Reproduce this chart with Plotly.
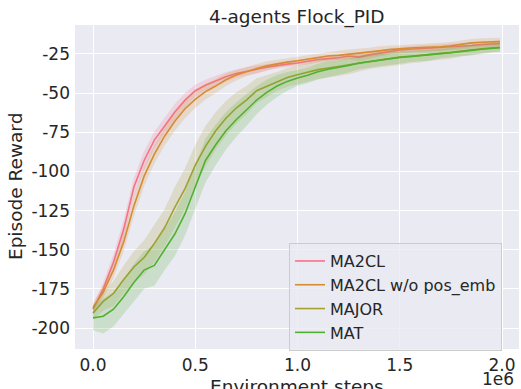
import plotly.graph_objects as go

# Environment steps (in millions, axis shows x1e6)
steps_m = [0.00, 0.05, 0.10, 0.15, 0.20, 0.25, 0.30, 0.35, 0.40, 0.45,
           0.50, 0.55, 0.60, 0.65, 0.70, 0.75, 0.80, 0.85, 0.90, 0.95,
           1.00, 1.05, 1.10, 1.15, 1.20, 1.25, 1.30, 1.35, 1.40, 1.45,
           1.50, 1.55, 1.60, 1.65, 1.70, 1.75, 1.80, 1.85, 1.90, 1.95, 1.99]

series_names = ["MA2CL", "MA2CL w/o pos_emb", "MAJOR", "MAT"]

ma2cl = [-188, -175, -158, -137, -110, -93, -80, -71, -62, -54.5,
         -48.5, -45, -42, -39.5, -37.5, -36, -34.8, -33.5, -32.3, -31.5,
         -30.8, -29.8, -28.5, -28.0, -27.4, -26.3, -27.0, -25.6, -24.6, -23.4,
         -22.5, -22.0, -21.6, -21.3, -21.0, -20.7, -20.2, -19.6, -19.0, -18.5, -18.3]
ma2cl_hw = [3, 4, 5, 6, 6, 6, 5.5, 5, 5, 4.5,
            4, 3.5, 3, 3, 2.5, 2.5, 2.5, 2, 2, 2,
            2, 2, 2, 2, 2, 2, 2.5, 2.5, 2, 2,
            2, 2, 2, 2, 2, 2, 2, 2, 2, 2, 2]

ma2cl_nopos = [-187, -177, -163, -145, -122, -103, -89, -77.5, -68, -60,
               -54, -49, -45.5, -41.5, -38.5, -36.3, -34.3, -32.6, -31.2, -30.2,
               -29.3, -28.3, -27.2, -26.3, -25.9, -25.2, -24.8, -24.1, -23.0, -22.2,
               -21.6, -21.2, -20.9, -20.8, -20.4, -19.8, -18.8, -17.9, -17.5, -17.2, -17.1]
ma2cl_nopos_hw = [3, 4, 5, 6, 6.5, 6.5, 6, 6, 6, 6,
                  5.5, 5, 4.5, 4, 3.5, 3, 3, 3, 2.5, 2.5,
                  2.5, 2.5, 2.5, 2.5, 3, 3, 3, 3, 3, 2.5,
                  2.5, 2.5, 2.5, 2.5, 2.5, 2.5, 2.5, 2.5, 2.5, 2.5, 2.5]

major = [-190.5, -183, -178, -169, -161, -155, -146, -136, -123, -111,
         -96, -84, -74, -66, -59.5, -54.5, -48.5, -45.5, -42.5, -40,
         -38.3, -36.8, -35.0, -34.0, -33.0, -32.0, -30.6, -29.6, -28.6, -27.7,
         -27.0, -26.5, -26.0, -25.4, -24.6, -24.0, -23.1, -22.5, -21.7, -21.1, -20.8]
major_hw = [4, 6, 8, 9, 10, 11, 12, 12, 13, 13,
            13, 13, 12, 11, 10, 9, 8, 7, 6, 6,
            6, 6, 6, 6, 6, 6, 5.5, 5, 5, 5,
            5, 4.5, 4.5, 4, 4, 4, 3.5, 3.5, 3.5, 3, 3]

mat = [-193.5, -192.5, -188, -180, -171, -163, -160, -150, -140, -127,
       -110, -93, -83, -74, -67, -61, -54.5, -49.5, -45.5, -42.5,
       -40.3, -38.6, -36.3, -34.8, -33.7, -32.3, -30.8, -29.8, -28.8, -27.8,
       -27.2, -26.7, -26.2, -25.7, -24.8, -24.2, -23.3, -22.7, -22.0, -21.4, -21.0]
mat_hw = [8, 11, 11, 11, 12, 12, 13, 13, 14, 14,
          14, 14, 13, 12, 11, 10, 9, 8, 7, 6,
          5, 5, 5, 5, 4.5, 4.5, 4, 4, 4, 4,
          4, 3.5, 3.5, 3.5, 3, 3, 3, 3, 2.5, 2.5, 2.5]

colors = ["#f77189", "#d58c32", "#a4a031", "#50b131"]
fills = ["rgba(247,113,137,0.2)", "rgba(213,140,50,0.2)",
         "rgba(164,160,49,0.2)", "rgba(80,177,49,0.2)"]

y_ticks = [-200, -175, -150, -125, -100, -75, -50, -25]
y_tick_text = ["-200", "-175", "-150", "-125", "-100", "-75", "-50", "-25"]
x_ticks = [0.0, 0.5, 1.0, 1.5, 2.0]
x_tick_text = ["0.0", "0.5", "1.0", "1.5", "2.0"]

means = [ma2cl, ma2cl_nopos, major, mat]
hws = [ma2cl_hw, ma2cl_nopos_hw, major_hw, mat_hw]

fig = go.Figure()
for name, m, hw, c, fc in zip(series_names, means, hws, colors, fills):
    upper = [a + b for a, b in zip(m, hw)]
    lower = [a - b for a, b in zip(m, hw)]
    fig.add_trace(go.Scatter(
        x=steps_m + steps_m[::-1], y=upper + lower[::-1],
        fill="toself", fillcolor=fc, line=dict(width=0),
        mode="lines", showlegend=False, hoverinfo="skip"))
    fig.add_trace(go.Scatter(
        x=steps_m, y=m, mode="lines", name=name,
        line=dict(color=c, width=1.6)))

font_family = "DejaVu Sans"
txt = "#262626"

fig.update_layout(
    width=521, height=389,
    margin=dict(l=75, r=2, t=25, b=40),
    paper_bgcolor="white", plot_bgcolor="#eaeaf2",
    font=dict(family=font_family, color=txt, size=17),
    showlegend=True,
    legend=dict(
        x=0.482, y=0.327, xanchor="left", yanchor="top",
        bgcolor="rgba(234,234,242,0.8)", bordercolor="#cccccc", borderwidth=1,
        font=dict(size=16, family=font_family, color=txt),
    ),
    xaxis=dict(
        range=[-0.088, 2.083], tickvals=x_ticks, ticktext=x_tick_text,
        showgrid=True, gridcolor="white", gridwidth=1.2, zeroline=False,
        showline=False, ticks="", tickfont=dict(size=17),
        ticklabelstandoff=4,
    ),
    yaxis=dict(
        range=[-213.4, -6.5], tickvals=y_ticks, ticktext=y_tick_text,
        showgrid=True, gridcolor="white", gridwidth=1.2, zeroline=False,
        showline=False, ticks="", tickfont=dict(size=17),
        ticklabelstandoff=4,
    ),
    annotations=[
        dict(text="4-agents Flock_PID", xref="paper", yref="paper",
             x=0.5, y=1.065, xanchor="center", yanchor="top", showarrow=False,
             font=dict(size=18.5, family=font_family, color=txt)),
        dict(text="Episode Reward", xref="paper", yref="paper",
             x=-0.135, y=0.5, xanchor="center", yanchor="middle", textangle=-90,
             showarrow=False, font=dict(size=18.5, family=font_family, color=txt)),
        dict(text="Environment steps", xref="paper", yref="paper",
             x=0.5, y=-0.077, xanchor="center", yanchor="top", showarrow=False,
             font=dict(size=18.5, family=font_family, color=txt)),
        dict(text="1e6", xref="paper", yref="paper",
             x=0.953, y=-0.093, xanchor="center", yanchor="middle", showarrow=False,
             font=dict(size=17, family=font_family, color=txt)),
    ],
)

fig.write_html("out.html")
